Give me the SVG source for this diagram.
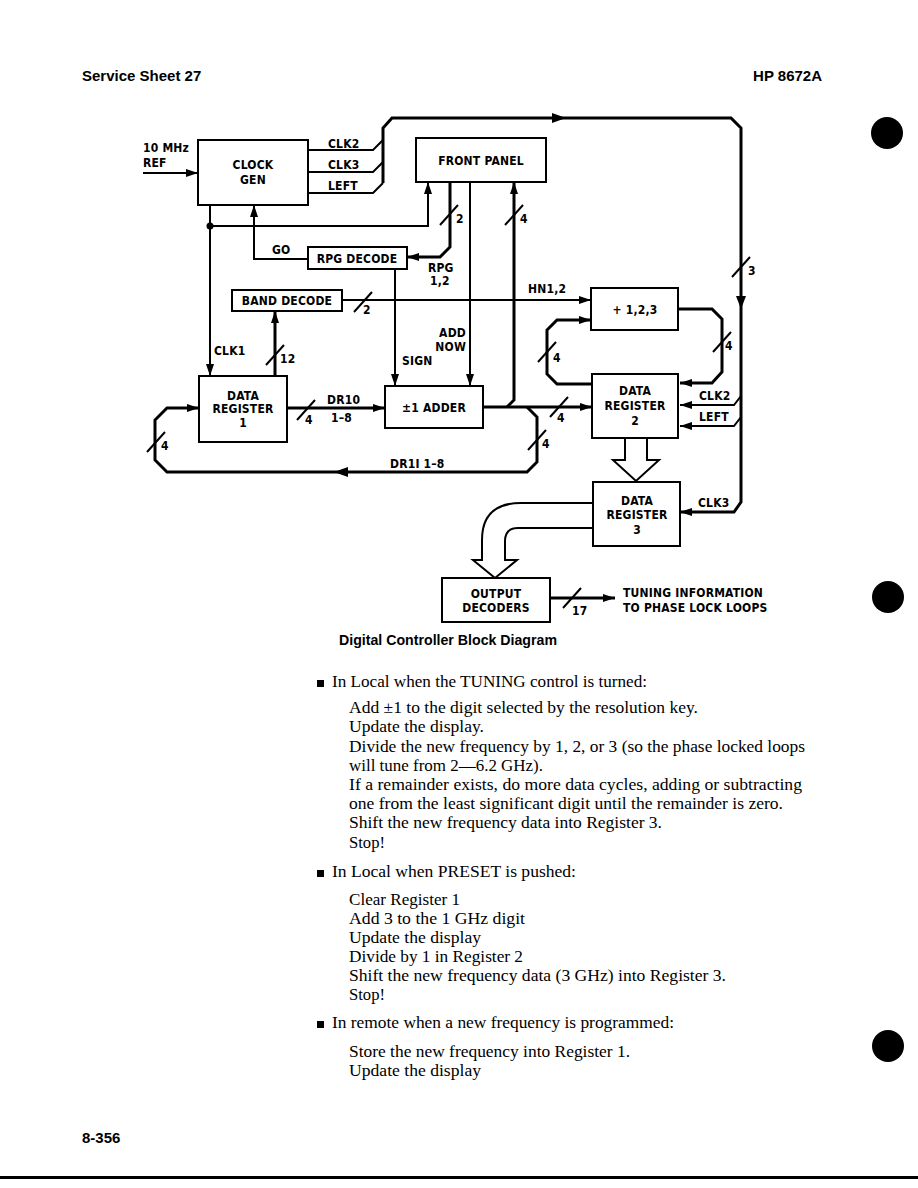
<svg xmlns="http://www.w3.org/2000/svg" width="918" height="1188" viewBox="0 0 918 1188">
<style>
.box{fill:#fff;stroke:#000;stroke-width:2}
.sig{fill:none;stroke:#000;stroke-width:2}
.bus{fill:none;stroke:#000;stroke-width:3}
.sl{fill:none;stroke:#000;stroke-width:2}
.lb{font-family:"Liberation Sans Narrow","DejaVu Sans Condensed","Liberation Sans",sans-serif;font-weight:bold;font-size:12px;letter-spacing:0.2px;fill:#000}
.c{text-anchor:middle}
.e{text-anchor:end}
.hd{font-family:"Liberation Sans",Arial,sans-serif;font-weight:bold;font-size:15px;fill:#000}
.bd{font-family:"Liberation Serif","Times New Roman",serif;font-size:16px;fill:#000}
</style>
<defs>
<marker id="ah" viewBox="0 0 12 8" refX="12" refY="4" markerWidth="12" markerHeight="8" markerUnits="userSpaceOnUse" orient="auto">
<path d="M0,0 L12,4 L0,8 z" fill="#000"/>
</marker>
</defs>
<rect width="918" height="1188" fill="#fff"/>

<!-- header -->
<text class="hd" x="82" y="81">Service Sheet 27</text>
<text class="hd" x="822" y="81" text-anchor="end">HP 8672A</text>

<!-- margin dots -->
<circle cx="887" cy="133" r="16" fill="#000"/>
<circle cx="888" cy="597" r="16" fill="#000"/>
<circle cx="888" cy="1046" r="16" fill="#000"/>

<!-- connectors -->
<g id="connectors">
<path class="sig" d="M143,173 H198" marker-end="url(#ah)"/>
<path class="sig" d="M308,150 H373 L383,140"/>
<path class="sig" d="M308,172 H373 L383,162"/>
<path class="sig" d="M308,193 H373 L383,183"/>
<path class="bus" d="M383,183 V128 L392,118 H731 L741,128 V502 L734,512 H680" marker-end="url(#ah)"/>
<path d="M552,113 L566,118 L552,123 z" fill="#000"/>
<path d="M736,296 L741,309 L746,296 z" fill="#000"/>
<path class="sig" d="M741,396 L734,405 H680" marker-end="url(#ah)"/>
<path class="sig" d="M741,417 L734,426 H680" marker-end="url(#ah)"/>
<path class="sig" d="M210,205 V376" marker-end="url(#ah)"/>
<circle cx="210" cy="226" r="3.5" fill="#000"/>
<path class="sig" d="M210,226 H428 V182" marker-end="url(#ah)"/>
<path class="sig" d="M308,259 H254 V205" marker-end="url(#ah)"/>
<path class="bus" d="M450,182 V247 L440,257 H407" marker-end="url(#ah)"/>
<path class="sig" d="M395,269 V386" marker-end="url(#ah)"/>
<path class="sig" d="M470,182 V386" marker-end="url(#ah)"/>
<path class="bus" d="M507,407 L514,400 V182" marker-end="url(#ah)"/>
<path class="sig" d="M342,300 H591" stroke-width="2.5" marker-end="url(#ah)"/>
<path class="bus" d="M275,376 V311" marker-end="url(#ah)"/>
<path class="bus" d="M287,408 H385" marker-end="url(#ah)"/>
<path class="bus" d="M483,407 H592" marker-end="url(#ah)"/>
<path class="bus" d="M527,407 L537,417 V462 L527,472 H167 L155,460 V420 L167,408 H199" marker-end="url(#ah)"/>
<path d="M348,467 L334,472 L348,477 z" fill="#000"/>
<path class="bus" d="M678,309 H712 L722,319 V372 L712,383 H680" marker-end="url(#ah)"/>
<path class="bus" d="M592,384 H557 L547,374 V330 L557,320 H591" marker-end="url(#ah)"/>
<path class="bus" d="M550,598 H615" marker-end="url(#ah)"/>
<path class="box" d="M625,438 V460 H613 L636,481 L659,460 H647 V438"/>
<path class="box" d="M593,503 H521 Q482,503 482,540 V560 H473 L495,578 L517,560 H505 V541 Q505,528 518,528 H593"/>
<!-- bus width slashes -->
<path class="sl" d="M440,225 L458,205 M505,225 L523,205 M732,277 L750,257 M354,312 L372,292 M266,365 L284,345 M297,420 L315,400 M147,452 L165,432 M550,417 L568,397 M528,450 L546,430 M713,352 L731,332 M538,362 L556,342 M563,608 L581,588"/>
<text class="lb" x="456" y="223">2</text>
<text class="lb" x="520" y="223">4</text>
<text class="lb" x="748" y="275">3</text>
<text class="lb" x="363" y="314">2</text>
<text class="lb" x="280" y="363">12</text>
<text class="lb" x="305" y="424">4</text>
<text class="lb" x="161" y="450">4</text>
<text class="lb" x="557" y="422">4</text>
<text class="lb" x="542" y="448">4</text>
<text class="lb" x="725" y="350">4</text>
<text class="lb" x="553" y="362">4</text>
<text class="lb" x="572" y="615">17</text>
<!-- signal labels -->
<text class="lb" x="143" y="152" font-size="10.5px">10 MHz</text>
<text class="lb" x="143" y="167" font-size="11.5px">REF</text>
<text class="lb" x="328" y="148">CLK2</text>
<text class="lb" x="328" y="169">CLK3</text>
<text class="lb" x="328" y="190">LEFT</text>
<text class="lb" x="272" y="254">GO</text>
<text class="lb" x="428" y="272">RPG</text>
<text class="lb" x="430" y="285">1,2</text>
<text class="lb" x="528" y="293">HN1,2</text>
<text class="lb" x="214" y="355">CLK1</text>
<text class="lb" x="402" y="365">SIGN</text>
<text class="lb e" x="466" y="337">ADD</text>
<text class="lb e" x="466" y="351">NOW</text>
<text class="lb" x="327" y="404">DR10</text>
<text class="lb" x="331" y="422">1–8</text>
<text class="lb" x="390" y="468">DR1I 1–8</text>
<text class="lb" x="699" y="400">CLK2</text>
<text class="lb" x="699" y="421">LEFT</text>
<text class="lb" x="698" y="507">CLK3</text>
<text class="lb" x="623" y="597" letter-spacing="0.5px">TUNING INFORMATION</text>
<text class="lb" x="623" y="612" letter-spacing="0.5px">TO PHASE LOCK LOOPS</text>
</g>

<!-- nodes -->
<g id="clock-gen">
<rect class="box" x="198" y="140" width="110" height="65"/>
<text class="lb c" x="253" y="169">CLOCK</text>
<text class="lb c" x="253" y="184">GEN</text>
</g>
<g id="front-panel">
<rect class="box" x="416" y="138" width="130" height="44"/>
<text class="lb c" x="481" y="165">FRONT PANEL</text>
</g>
<g id="rpg-decode">
<rect class="box" x="308" y="247" width="99" height="22"/>
<text class="lb c" x="357" y="263">RPG DECODE</text>
</g>
<g id="band-decode">
<rect class="box" x="232" y="290" width="110" height="21"/>
<text class="lb c" x="287" y="305">BAND DECODE</text>
</g>
<g id="data-register-1">
<rect class="box" x="199" y="376" width="88" height="66"/>
<text class="lb c" x="243" y="400">DATA</text>
<text class="lb c" x="243" y="413">REGISTER</text>
<text class="lb c" x="243" y="427">1</text>
</g>
<g id="adder">
<rect class="box" x="385" y="386" width="98" height="42"/>
<text class="lb c" x="434" y="412">±1 ADDER</text>
</g>
<g id="divider">
<rect class="box" x="591" y="288" width="87" height="42"/>
<text class="lb c" x="635" y="314">+ 1,2,3</text>
</g>
<g id="data-register-2">
<rect class="box" x="592" y="374" width="86" height="64"/>
<text class="lb c" x="635" y="395">DATA</text>
<text class="lb c" x="635" y="410">REGISTER</text>
<text class="lb c" x="635" y="425">2</text>
</g>
<g id="data-register-3">
<rect class="box" x="593" y="482" width="87" height="64"/>
<text class="lb c" x="637" y="505">DATA</text>
<text class="lb c" x="637" y="519">REGISTER</text>
<text class="lb c" x="637" y="534">3</text>
</g>
<g id="output-decoders">
<rect class="box" x="442" y="578" width="108" height="44"/>
<text class="lb c" x="496" y="598">OUTPUT</text>
<text class="lb c" x="496" y="612">DECODERS</text>
</g>

<!-- caption -->
<text class="hd" x="339" y="645" font-size="14.2px" textLength="218" lengthAdjust="spacingAndGlyphs">Digital Controller Block Diagram</text>

<!-- body text -->
<g class="bd">
<rect x="317" y="680" width="7" height="7" fill="#000"/>
<text x="332" y="687" textLength="315" lengthAdjust="spacingAndGlyphs">In Local when the TUNING control is turned:</text>
<text x="349" y="713" textLength="349" lengthAdjust="spacingAndGlyphs">Add ±1 to the digit selected by the resolution key.</text>
<text x="349" y="732" textLength="135" lengthAdjust="spacingAndGlyphs">Update the display.</text>
<text x="349" y="752" textLength="456" lengthAdjust="spacingAndGlyphs">Divide the new frequency by 1, 2, or 3 (so the phase locked loops</text>
<text x="349" y="771" textLength="194" lengthAdjust="spacingAndGlyphs">will tune from 2—6.2 GHz).</text>
<text x="349" y="790" textLength="453" lengthAdjust="spacingAndGlyphs">If a remainder exists, do more data cycles, adding or subtracting</text>
<text x="349" y="809" textLength="434" lengthAdjust="spacingAndGlyphs">one from the least significant digit until the remainder is zero.</text>
<text x="349" y="828" textLength="313" lengthAdjust="spacingAndGlyphs">Shift the new frequency data into Register 3.</text>
<text x="349" y="848" textLength="36" lengthAdjust="spacingAndGlyphs">Stop!</text>
<rect x="317" y="870" width="7" height="7" fill="#000"/>
<text x="332" y="877" textLength="244" lengthAdjust="spacingAndGlyphs">In Local when PRESET is pushed:</text>
<text x="349" y="905" textLength="111" lengthAdjust="spacingAndGlyphs">Clear Register 1</text>
<text x="349" y="924" textLength="176" lengthAdjust="spacingAndGlyphs">Add 3 to the 1 GHz digit</text>
<text x="349" y="943" textLength="132" lengthAdjust="spacingAndGlyphs">Update the display</text>
<text x="349" y="962" textLength="174" lengthAdjust="spacingAndGlyphs">Divide by 1 in Register 2</text>
<text x="349" y="981" textLength="377" lengthAdjust="spacingAndGlyphs">Shift the new frequency data (3 GHz) into Register 3.</text>
<text x="349" y="1000" textLength="36" lengthAdjust="spacingAndGlyphs">Stop!</text>
<rect x="317" y="1021" width="7" height="7" fill="#000"/>
<text x="332" y="1028" textLength="342" lengthAdjust="spacingAndGlyphs">In remote when a new frequency is programmed:</text>
<text x="349" y="1057" textLength="281" lengthAdjust="spacingAndGlyphs">Store the new frequency into Register 1.</text>
<text x="349" y="1076" textLength="132" lengthAdjust="spacingAndGlyphs">Update the display</text>
</g>

<!-- footer -->
<text class="hd" x="82" y="1143">8-356</text>
<rect x="0" y="1176" width="918" height="3" fill="#000"/>
</svg>
